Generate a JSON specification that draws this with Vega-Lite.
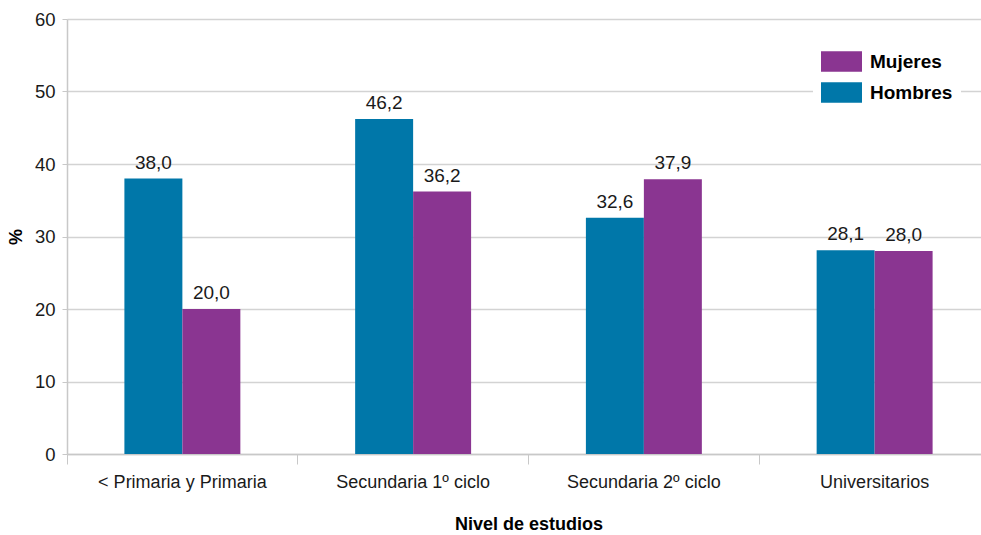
{
  "$schema": "https://vega.github.io/schema/vega-lite/v6.json",
  "autosize": {"type": "none"},
  "padding": {"left": 67, "top": 19, "right": 0, "bottom": 81},
  "width": 914,
  "height": 435,
  "background": "white",
  "config": {
    "locale": {"number": {"decimal": ",", "thousands": ".", "grouping": [3], "currency": ["", " €"]}},
    "font": "Liberation Sans",
    "view": {"stroke": null}
  },
  "data": {
    "values": [
      {"nivel": "< Primaria y Primaria", "sexo": "Hombres", "valor": 38.0},
      {"nivel": "< Primaria y Primaria", "sexo": "Mujeres", "valor": 20.0},
      {"nivel": "Secundaria 1º ciclo", "sexo": "Hombres", "valor": 46.2},
      {"nivel": "Secundaria 1º ciclo", "sexo": "Mujeres", "valor": 36.2},
      {"nivel": "Secundaria 2º ciclo", "sexo": "Hombres", "valor": 32.6},
      {"nivel": "Secundaria 2º ciclo", "sexo": "Mujeres", "valor": 37.9},
      {"nivel": "Universitarios", "sexo": "Hombres", "valor": 28.1},
      {"nivel": "Universitarios", "sexo": "Mujeres", "valor": 28.0}
    ]
  },
  "encoding": {
    "x": {
      "field": "nivel",
      "type": "nominal",
      "sort": null,
      "scale": {"paddingInner": 0, "paddingOuter": 0, "range": [0, 923]},
      "axis": {
        "title": "Nivel de estudios",
        "titleFontSize": 18,
        "titleFontWeight": "bold",
        "titleColor": "#000000",
        "titlePadding": 24,
        "labelAngle": 0,
        "labelFontSize": 18,
        "labelColor": "#1a1a1a",
        "labelPadding": 9,
        "bandPosition": 0,
        "tickSize": 10,
        "tickColor": "#c8c8c8",
        "domainColor": "#c8c8c8",
        "domainWidth": 1.5,
        "grid": false
      }
    },
    "xOffset": {
      "field": "sexo",
      "type": "nominal",
      "sort": ["Hombres", "Mujeres"],
      "scale": {"paddingInner": 0, "paddingOuter": 0.99}
    },
    "y": {
      "field": "valor",
      "type": "quantitative",
      "scale": {"domain": [0, 60], "nice": false},
      "axis": {
        "title": "%",
        "titleFontSize": 18,
        "titleFontWeight": "bold",
        "titleColor": "#000000",
        "titlePadding": 9,
        "values": [0, 10, 20, 30, 40, 50, 60],
        "labelFontSize": 18.5,
        "labelColor": "#1a1a1a",
        "labelPadding": 7,
        "tickSize": 5,
        "tickColor": "#c8c8c8",
        "domainColor": "#c8c8c8",
        "domainWidth": 1.5,
        "gridColor": "#d3d3d3",
        "gridWidth": 1.5
      }
    }
  },
  "layer": [
    {
      "mark": {"type": "bar"},
      "encoding": {
        "color": {
          "field": "sexo",
          "type": "nominal",
          "scale": {"domain": ["Hombres", "Mujeres"], "range": ["#0077a9", "#8a3591"]},
          "legend": {
            "title": null,
            "values": ["Mujeres", "Hombres"],
            "orient": "none",
            "legendX": 746,
            "legendY": 14,
            "padding": 8,
            "fillColor": "white",
            "symbolType": "M-1,-0.5L1,-0.5L1,0.5L-1,0.5Z",
            "symbolSize": 1681,
            "symbolStrokeWidth": 0,
            "symbolOpacity": 1,
            "labelFontSize": 19,
            "labelFontWeight": "bold",
            "labelColor": "#000000",
            "labelOffset": 8,
            "rowPadding": -9
          }
        }
      }
    },
    {
      "mark": {"type": "text", "baseline": "bottom", "dy": -6, "fontSize": 19, "color": "#1a1a1a"},
      "encoding": {
        "text": {"field": "valor", "type": "quantitative", "format": ".1f"}
      }
    }
  ]
}
